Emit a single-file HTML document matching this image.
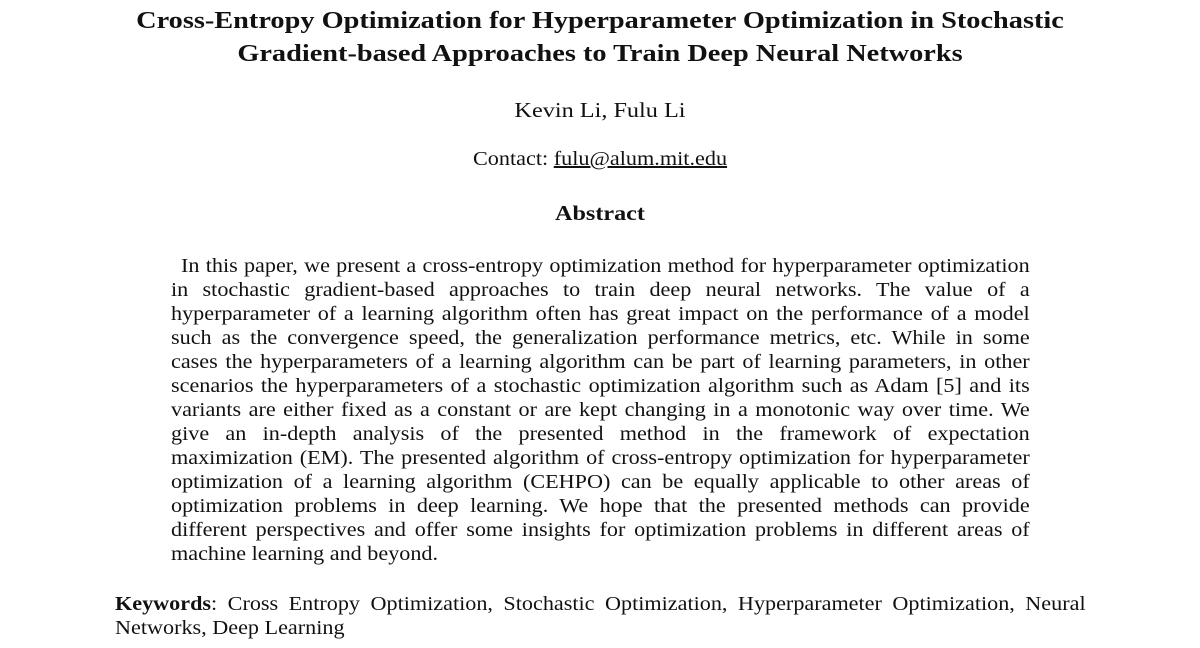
<!DOCTYPE html>
<html><head><meta charset="utf-8"><style>
html,body{margin:0;padding:0;background:#fff;}
body{width:1200px;height:648px;position:relative;overflow:hidden;font-family:"Liberation Serif","Times New Roman",serif;color:#111;}
.c{position:absolute;left:0;width:1200px;text-align:center;white-space:nowrap;transform-origin:600px 0;}
.t{font-weight:bold;font-size:24px;transform:scaleX(1.18);}
.l{position:absolute;white-space:nowrap;font-size:20px;line-height:24px;transform:scaleX(1.108);transform-origin:0 0;}
.j{text-align:justify;text-align-last:justify;width:775px;}
</style></head><body>
<div class="c t" style="top:8px">Cross-Entropy Optimization for Hyperparameter Optimization in Stochastic</div>
<div class="c t" style="top:41px">Gradient-based Approaches to Train Deep Neural Networks</div>
<div class="c" style="top:98px;font-size:21px;transform:scaleX(1.155)">Kevin Li, Fulu Li</div>
<div class="c" style="top:148px;font-size:20px;transform:scaleX(1.11)">Contact: <span style="text-decoration:underline">fulu@alum.mit.edu</span></div>
<div class="c" style="top:201px;font-size:21px;font-weight:bold;transform:scaleX(1.15)">Abstract</div>

<div class="l j" style="top:254px;left:181px;width:766px">In this paper, we present a cross-entropy optimization method for hyperparameter optimization</div>
<div class="l j" style="top:278px;left:171px">in stochastic gradient-based approaches to train deep neural networks. The value of a</div>
<div class="l j" style="top:302px;left:171px">hyperparameter of a learning algorithm often has great impact on the performance of a model</div>
<div class="l j" style="top:326px;left:171px">such as the convergence speed, the generalization performance metrics, etc. While in some</div>
<div class="l j" style="top:350px;left:171px">cases the hyperparameters of a learning algorithm can be part of learning parameters, in other</div>
<div class="l j" style="top:374px;left:171px">scenarios the hyperparameters of a stochastic optimization algorithm such as Adam [5] and its</div>
<div class="l j" style="top:398px;left:171px">variants are either fixed as a constant or are kept changing in a monotonic way over time. We</div>
<div class="l j" style="top:422px;left:171px">give an in-depth analysis of the presented method in the framework of expectation</div>
<div class="l j" style="top:446px;left:171px">maximization (EM). The presented algorithm of cross-entropy optimization for hyperparameter</div>
<div class="l j" style="top:470px;left:171px">optimization of a learning algorithm (CEHPO) can be equally applicable to other areas of</div>
<div class="l j" style="top:494px;left:171px">optimization problems in deep learning. We hope that the presented methods can provide</div>
<div class="l j" style="top:518px;left:171px">different perspectives and offer some insights for optimization problems in different areas of</div>
<div class="l" style="top:542px;left:171px">machine learning and beyond.</div>

<div class="l j" style="top:592px;left:115px;width:876px"><b>Keywords</b>: Cross Entropy Optimization, Stochastic Optimization, Hyperparameter Optimization, Neural</div>
<div class="l" style="top:616px;left:115px">Networks, Deep Learning</div>
</body></html>
